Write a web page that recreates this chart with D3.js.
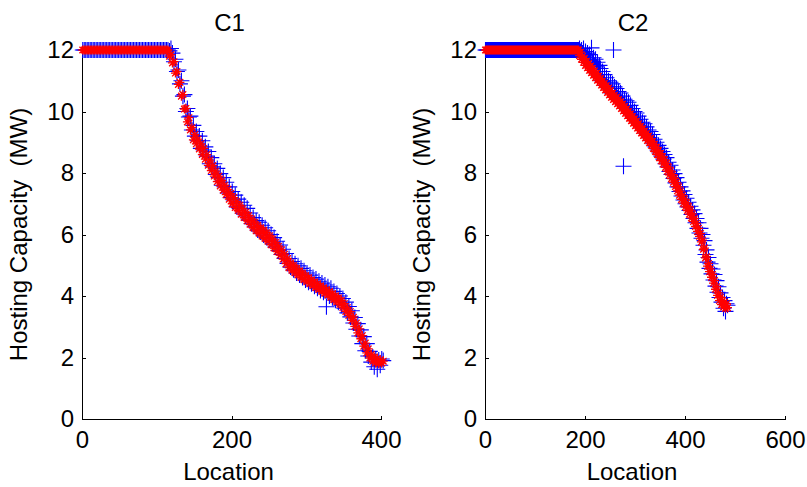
<!DOCTYPE html>
<html><head><meta charset="utf-8">
<script src="https://cdn.jsdelivr.net/npm/d3@7"></script>
<style>
body{margin:0;background:#fff;}
svg{display:block;}
text{font-family:"Liberation Sans",Arial,Helvetica,sans-serif;fill:#000;}
</style>
</head><body>
<svg id="chart" width="807" height="487"></svg>
<script>
// ---------- data ----------
const panelTitles = ["C1", "C2"];
const xLabel = "Location";
const yLabel = "Hosting Capacity  (MW)";
const xTicksC1 = [0, 200, 400];
const xTicksC2 = [0, 200, 400, 600];
const yTicks = [0, 2, 4, 6, 8, 10, 12];

// C1: hosting capacity per location (locations 1,3,5,...)
const c1Red = [
12,12,12,12,12,12,12,12,12,12, 12,12,12,12,12,12,12,12,12,12,
12,12,12,12,12,12,12,12,12,12, 12,12,12,12,12,12,12,12,12,12,
12,12,12,12,12,12,12,12,12,12, 12,12,12,12,12,12,12,
12.0,11.8,11.85,11.58,11.62,11.25,11.3,10.88,10.95,10.5,
10.55,10.08,10.1,9.66,9.8,9.4,9.48,9.08,9.25,8.95,
9.1,8.78,8.95,8.6,8.8,8.45,8.6,8.25,8.42,8.08,
8.24,7.9,8.06,7.72,7.9,7.58,7.76,7.44,7.6,7.3,
7.47,7.15,7.33,7.0,7.2,6.88,7.07,6.78,6.95,6.66,
6.84,6.55,6.72,6.45,6.62,6.33,6.5,6.22,6.4,6.12,
6.3,6.04,6.22,5.95,6.14,5.87,6.06,5.78,5.96,5.67,
5.85,5.56,5.74,5.45,5.62,5.33,5.5,5.2,5.36,5.05,
5.22,4.92,5.08,4.84,5.0,4.76,4.9,4.68,4.82,4.6,
4.75,4.53,4.67,4.46,4.6,4.4,4.53,4.33,4.46,4.27,
4.4,4.21,4.33,4.15,4.27,4.09,4.21,4.03,4.15,3.96,
4.08,3.88,4.01,3.81,3.94,3.73,3.86,3.63,3.75,3.5,
3.62,3.37,3.49,3.21,3.31,3.01,3.12,2.8,2.93,2.61,
2.71,2.37,2.47,2.15,2.28,1.98,2.1,1.88,2.02,1.82,
1.97,1.8,1.93,1.82,1.88
];
const c1Blue = [
12,12,12,12,12,12,12,12,12,12, 12,12,12,12,12,12,12,12,12,12,
12,12,12,12,12,12,12,12,12,12, 12,12,12,12,12,12,12,12,12,12,
12,12,12,12,12,12,12,12,12,12, 12,12,12,12,12,12,12,
12.0,11.97,12.05,11.9,11.62,11.7,11.3,11.35,10.9,11.0,
10.5,10.55,10.0,10.1,9.82,9.85,9.4,9.55,9.2,9.35,
9.05,9.2,8.8,9.05,8.75,8.85,8.55,8.7,8.3,8.5,
8.2,8.3,7.95,8.15,7.85,7.98,7.6,7.85,7.55,7.7,
7.35,7.55,7.2,7.4,7.12,7.28,6.9,7.15,6.85,7.05,
6.7,6.95,6.6,6.85,6.48,6.7,6.35,6.55,6.27,6.45,
6.15,6.4,6.08,6.3,5.98,6.22,5.9,6.12,5.82,6.0,
5.7,5.9,5.6,5.78,5.48,5.66,5.35,5.52,5.22,5.38,
5.06,5.22,4.94,5.12,4.85,5.05,4.75,4.98,4.68,4.9,
4.6,4.82,4.52,4.75,4.45,4.68,4.4,4.6,4.32,4.55,
4.25,4.48,4.18,4.42,4.12,4.36,3.65,4.3,4.0,4.25,
3.94,4.15,3.86,4.08,3.8,4.0,3.7,3.92,3.6,3.8,
3.45,3.66,3.32,3.52,3.12,3.3,2.92,3.1,2.7,2.9,
2.45,2.68,2.22,2.45,2.05,2.2,1.85,2.02,1.7,1.95,
1.62,1.92,1.75,1.95,1.9
];

// C2: hosting capacity per location (locations 1,3,5,...)
const c2Red = [
12,12,12,12,12,12,12,12,12,12, 12,12,12,12,12,12,12,12,12,12,
12,12,12,12,12,12,12,12,12,12, 12,12,12,12,12,12,12,12,12,12,
12,12,12,12,12,12,12,12,12,12, 12,12,12,12,12,12,12,12,12,12,
12,12,12,12,12,12,12,12,12,12, 12,12,12,12,12,12,12,12,12,12,
12,12,12,12,12,12,12,12,12,12, 12,12,12,
12.0,11.82,11.93,11.7,11.8,11.6,11.72,11.5,11.63,11.42,
11.56,11.34,11.48,11.26,11.4,11.18,11.32,11.1,11.24,11.02,
11.15,10.94,
11.07,10.86,10.99,10.78,10.92,10.7,10.84,10.62,10.76,10.54,
10.68,10.46,10.6,10.39,10.53,10.32,10.46,10.25,10.39,10.18,
10.32,10.1,10.24,10.02,10.16,9.94,10.08,9.86,10.0,9.78,
9.92,9.7,9.84,9.62,9.76,9.54,9.68,9.46,9.6,9.38,
9.52,9.3,9.44,9.22,9.36,9.14,9.28,9.06,9.2,8.98,
9.12,8.9,9.03,8.8,8.93,8.7,8.83,8.6,8.73,8.5,
8.63,8.4,8.53,8.3,8.43,8.18,8.31,8.06,8.19,7.94,
8.07,7.82,7.95,7.7,7.83,7.56,7.69,7.42,7.55,7.28,
7.41,7.14,7.27,7.02,7.15,6.9,7.03,6.78,6.91,6.66,
6.79,6.54,6.67,6.42,6.52,6.26,6.36,6.1,6.2,5.94,
6.03,5.76,5.82,5.52,5.56,5.24,5.28,4.97,5.06,4.79,
4.88,4.61,4.7,4.42,4.5,4.22,4.3,4.02,4.1,3.85,
3.96,3.72,3.85,3.64,3.8,3.6,3.75,3.62
];
const c2Blue = [
12,12,12,12,12,12,12,12,12,12, 12,12,12,12,12,12,12,12,12,12,
12,12,12,12,12,12,12,12,12,12, 12,12,12,12,12,12,12,12,12,12,
12,12,12,12,12,12,12,12,12,12, 12,12,12,12,12,12,12,12,12,12,
12,12,12,12,12,12,12,12,12,12, 12,12,12,12,12,12,12,12,12,12,
12,12,12,12,12,12,12,12,12,12, 12,12,12,
12.0,12.05,11.95,12.0,11.9,12.05,11.8,11.95,11.75,11.9,
11.7,11.85,11.65,12.07,11.6,11.75,11.5,11.7,11.45,11.6,
11.4,11.5,
11.4,11.0,11.3,10.95,11.2,10.85,11.1,10.8,11.0,10.75,
10.95,10.6,10.9,12.0,10.8,10.5,10.75,10.45,10.65,10.35,
10.6,10.3,10.5,8.22,10.4,10.15,10.35,10.05,10.3,9.95,
10.2,9.9,10.1,9.8,10.0,9.72,9.95,9.65,9.85,9.55,
9.75,9.5,9.65,9.4,9.6,9.3,9.5,9.25,9.4,9.15,
9.35,9.05,9.25,8.95,9.1,8.85,9.0,8.75,8.9,8.65,
8.8,8.55,8.7,8.45,8.6,8.3,8.5,8.2,8.35,8.05,
8.25,7.95,8.1,7.82,7.98,7.68,7.85,7.55,7.7,7.4,
7.55,7.25,7.42,7.12,7.3,7.0,7.18,6.9,7.05,6.78,
6.92,6.65,6.8,6.52,6.68,6.38,6.52,6.2,6.38,6.05,
6.2,5.88,6.0,5.65,5.8,5.35,5.5,5.1,5.25,4.9,
5.05,4.72,4.88,4.52,4.7,4.32,4.5,4.12,4.3,3.95,
4.1,3.8,3.95,3.6,3.85,3.5,3.75,3.7
];

// ---------- layout ----------
const svg = d3.select("#chart");
const yTop = 50, yBottom = 419;
const fontSize = 24;
const panels = [
  {title: panelTitles[0], red: c1Red, blue: c1Blue, xMax: 400, ticks: xTicksC1, left: 82, right: 381, ylabX: 27},
  {title: panelTitles[1], red: c2Red, blue: c2Blue, xMax: 600, ticks: xTicksC2, left: 485, right: 785, ylabX: 430}
];
const plusPath = "M-8,0H8M0,-8V8";
const starPath = "M-4.5,0H4.5M0,-4.5V4.5M-3.3,-3.3L3.3,3.3M-3.3,3.3L3.3,-3.3";

panels.forEach(p => {
  const x = d3.scaleLinear().domain([0, p.xMax]).range([p.left, p.right]);
  const y = d3.scaleLinear().domain([0, 12]).range([yBottom, yTop]);
  const g = svg.append("g");
  const loc = i => 2 * i + 1;

  // axes
  const xa = g.append("g").attr("transform", `translate(0,${yBottom})`)
    .call(d3.axisBottom(x).tickValues(p.ticks).tickSizeInner(-3).tickSizeOuter(0).tickPadding(12).tickFormat(d3.format("d")));
  const ya = g.append("g").attr("transform", `translate(${p.left},0)`)
    .call(d3.axisLeft(y).tickValues(yTicks).tickSizeInner(-4).tickSizeOuter(0).tickPadding(8).tickFormat(d3.format("d")));
  [xa, ya].forEach(a => {
    a.selectAll("path,line").attr("stroke", "#000").attr("stroke-width", 1).attr("shape-rendering", "crispEdges");
    a.selectAll("text").attr("font-size", fontSize).attr("fill", "#000").style("font-family", '"Liberation Sans", Arial, sans-serif');
  });

  // blue '+' markers
  g.append("g").selectAll("path").data(p.blue).enter().append("path")
    .attr("d", plusPath)
    .attr("transform", (d, i) => `translate(${x(loc(i))},${y(d)})`)
    .attr("fill", "none").attr("stroke", "#0000ff").attr("stroke-width", 1.1);

  // red '*' markers
  g.append("g").selectAll("path").data(p.red).enter().append("path")
    .attr("d", starPath)
    .attr("transform", (d, i) => `translate(${x(loc(i))},${y(d)})`)
    .attr("fill", "none").attr("stroke", "#ff0000").attr("stroke-width", 1.3);

  // title
  g.append("text").attr("x", (p.left + p.right) / 2 - 2).attr("y", 31)
    .attr("text-anchor", "middle").attr("font-size", fontSize).text(p.title);
  // x label
  g.append("text").attr("x", (p.left + p.right) / 2 - 3).attr("y", 480)
    .attr("text-anchor", "middle").attr("font-size", fontSize).text(xLabel);
  // y label
  g.append("text").attr("transform", `translate(${p.ylabX},${(yTop + yBottom) / 2}) rotate(-90)`)
    .attr("text-anchor", "middle").attr("font-size", fontSize)
    .style("white-space", "pre").text(yLabel);
});
</script>
</body></html>
